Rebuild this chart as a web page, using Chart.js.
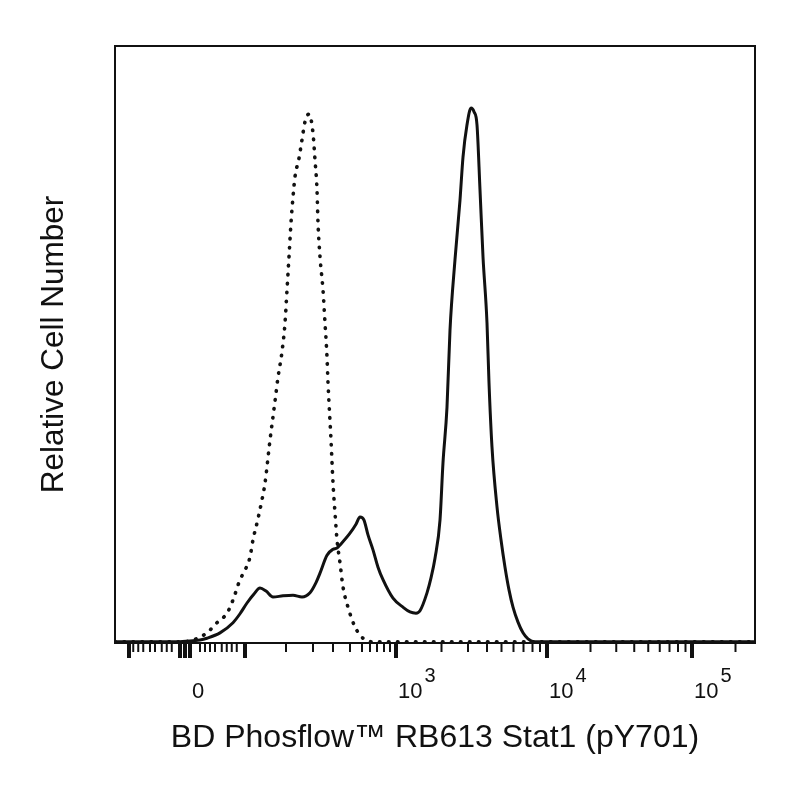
<!DOCTYPE html>
<html><head><meta charset="utf-8">
<script src="https://cdn.jsdelivr.net/npm/chart.js@4.4.1/dist/chart.umd.min.js"></script>
<style>html,body{margin:0;padding:0;background:#fff}#wrap{width:800px;height:800px}</style>
</head><body><div id="wrap"><canvas id="c" width="800" height="800"></canvas></div>
<script>
// Histogram channels (0-256 display channels, biexponential scale) and relative counts (% of plot height)
const stainedX = [0,14,24,28.8,34,36.8,42,47.2,50,52.8,55.6,58,60.4,63.2,67.2,71.2,74.8,78,80.4,82,84.8,87.2,88.8,90.4,94,96.4,98,99.6,101.2,103.2,105.2,107.2,111.2,115.2,118,120.4,122,124.8,126.4,128,130,131.2,132.8,134,136,138,139.2,140.8,142.4,143.6,144.8,146,147.2,148.8,149.6,150.8,152.8,154.4,156,157.6,159.2,161.2,163.2,165.2,168,194,256];
const stainedY = [0.2,0.2,0.2,0.3,0.5,0.8,1.7,3.4,4.9,6.7,8.2,9.2,8.7,7.7,7.9,8.0,7.7,8.4,10.1,11.7,14.7,15.7,15.9,16.6,18.4,19.9,21.1,20.6,18.1,15.6,12.7,10.6,7.5,6.0,5.2,5.0,5.4,8.4,10.9,14.2,20.6,30.2,39.5,52.4,64.2,74.2,81.4,86.8,89.6,89.0,86.8,75.9,64.7,53.6,43.6,32.8,22.8,17.3,12.7,8.9,6.0,3.5,1.7,0.7,0.2,0.2,0.2];
const controlX = [0,24,27.2,31.2,34,36.8,40.8,44.8,47.2,50,52,54,55.2,56.8,58.8,60,62,64,65.2,66.8,68,68.8,69.6,70.4,71.2,72,73.6,74.8,76,77.6,79.2,80,80.8,81.2,82,83.2,84,84.8,85.2,86.4,87.2,88,88.8,90,91.2,93.2,96,99.2,103.2,114,256];
const controlY = [0.2,0.2,0.2,0.5,1.0,1.7,3.4,5.0,7.2,10.6,12.2,14.4,17.3,20.1,24.0,26.8,34.0,40.5,44.5,48.8,53.6,59.1,64.7,70.4,74.7,78.1,81.2,84.3,87.3,88.6,85.4,80.9,75.9,70.4,64.7,59.1,53.6,47.9,43.6,34.0,26.8,21.8,17.3,13.4,9.4,6.0,2.7,0.8,0.2,0.2,0.2];

// Axis ticks (channel positions of -10^2, -10/0/10, 10^2, 10^3, 10^4, 10^5 and minor decade ticks)
const majorTicks = [5.6,26,28,30,52,112.4,172.8,230.8];
const minorTicks = [7.3,9.3,11.3,14,16,18.7,20.7,22.7,34,36,38,40,42.7,44.7,46.7,48.7,68.4,79.2,87.2,94,98.8,102,104.8,107.6,110,130.6,141.2,148.8,154.6,159.4,163.4,167.0,170.0,190.2,200.5,207.7,213.3,217.9,221.8,225.2,228.2,248.2];
const labelTicks = [30,112.4,172.8,230.8];
const labelBase = ['0','10','10','10'];
const labelExp = ['','3','4','5'];

const FONT = 'Arial, "Liberation Sans", sans-serif';
const INK = '#111';

const flowAxis = {
  id: 'flowAxis',
  afterDraw(chart) {
    const {ctx, chartArea: a, scales: {x}} = chart;
    ctx.save();
    ctx.strokeStyle = INK;
    ctx.lineWidth = 2;
    ctx.strokeRect(a.left, a.top, a.right - a.left, a.bottom - a.top);
    ctx.lineCap = 'butt';
    ctx.lineWidth = 2;
    minorTicks.forEach(v => {
      const p = x.getPixelForValue(v);
      ctx.beginPath(); ctx.moveTo(p, a.bottom); ctx.lineTo(p, a.bottom + 9); ctx.stroke();
    });
    ctx.lineWidth = 4;
    majorTicks.forEach(v => {
      const p = x.getPixelForValue(v);
      ctx.beginPath(); ctx.moveTo(p, a.bottom); ctx.lineTo(p, a.bottom + 15); ctx.stroke();
    });
    ctx.fillStyle = INK;
    ctx.textAlign = 'left';
    ctx.textBaseline = 'alphabetic';
    labelTicks.forEach((v, i) => {
      const p = x.getPixelForValue(v) + 2;
      ctx.font = '22px ' + FONT;
      ctx.fillText(labelBase[i], p, a.bottom + 55);
      if (labelExp[i]) {
        const w = ctx.measureText(labelBase[i]).width;
        ctx.font = '20px ' + FONT;
        ctx.fillText(labelExp[i], p + w + 2, a.bottom + 39);
      }
    });
    ctx.restore();
  }
};

const toPts = (xs, ys) => xs.map((v, i) => ({x: v, y: ys[i]}));

new Chart(document.getElementById('c'), {
  type: 'line',
  data: {
    datasets: [
      {label: 'Stained', data: toPts(stainedX, stainedY), borderColor: INK, borderWidth: 3,
       pointRadius: 0, cubicInterpolationMode: 'monotone', fill: false},
      {label: 'Control', data: toPts(controlX, controlY), borderColor: INK, borderWidth: 3.6,
       borderDash: [0.5, 8.5], borderCapStyle: 'round', pointRadius: 0,
       cubicInterpolationMode: 'monotone', fill: false}
    ]
  },
  options: {
    responsive: false,
    animation: false,
    devicePixelRatio: 1,
    layout: {padding: {left: 0, right: 45, top: 46, bottom: 0}},
    plugins: {legend: {display: false}, tooltip: {enabled: false}},
    scales: {
      x: {type: 'linear', min: 0, max: 256,
          ticks: {display: false}, grid: {display: false}, border: {display: false},
          title: {display: true, text: 'BD Phosflow™ RB613 Stat1 (pY701)', color: INK,
                  font: {family: FONT, size: 32}, padding: {top: 0, bottom: 43}},
          afterFit(s) { s.height = 157; }},
      y: {min: 0, max: 100,
          ticks: {display: false}, grid: {display: false}, border: {display: false},
          title: {display: true, text: 'Relative Cell Number', color: INK,
                  font: {family: FONT, size: 31.5}, padding: {top: 35, bottom: 0}},
          afterFit(s) { s.width = 115; }}
    }
  },
  plugins: [flowAxis]
});
</script>
</body></html>
